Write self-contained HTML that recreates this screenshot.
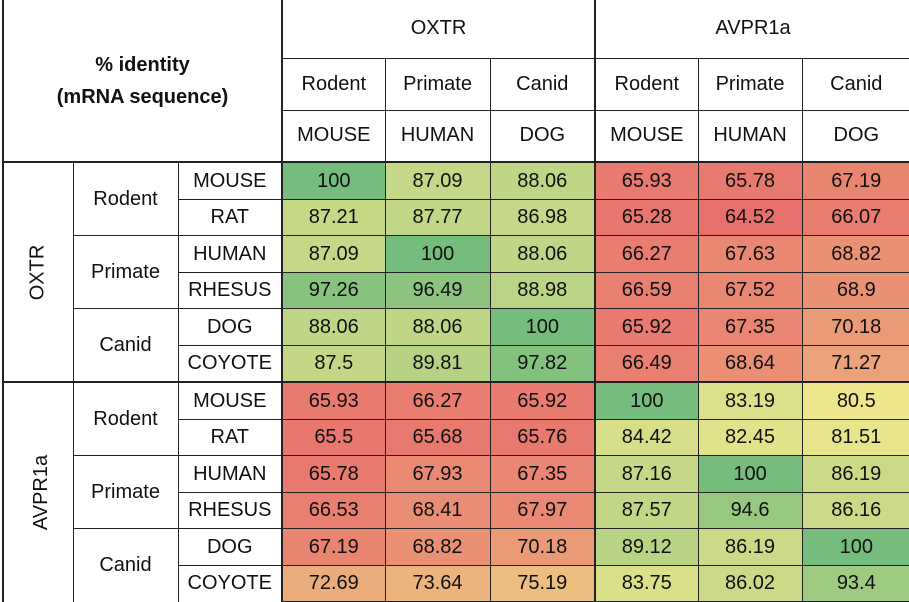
<!DOCTYPE html>
<html><head><meta charset="utf-8"><style>
body{margin:0;background:#fff;width:909px;height:602px;overflow:hidden}
table{position:absolute;left:2px;top:0;width:907px;border-collapse:collapse;table-layout:fixed;font-family:"Liberation Sans",sans-serif;font-size:20px;color:#111}
td{border:1px solid #222;text-align:center;padding:0;height:35px;overflow:hidden;white-space:nowrap}
tr.x td{height:36px}
td.v{font-size:20px}
.rot{transform:rotate(-90deg);display:inline-block}
.tb{border-bottom:2px solid #222}
.tr{border-right:2px solid #222}
</style></head><body>
<table id="t">
<colgroup><col style="width:70px"><col style="width:105px"><col style="width:104px"><col style="width:103px"><col style="width:105px"><col style="width:105px"><col style="width:103px"><col style="width:104px"><col style="width:108px"></colgroup>
<tr style="height:58px"><td colspan="3" rowspan="3" class="tr tb" style="border-left:2px solid #222;border-top:none;font-weight:bold;font-size:20px;line-height:32px">% identity<br>(mRNA sequence)</td><td colspan="3" class="tr" style="border-top:none">OXTR</td><td colspan="3" style="border-top:none;border-right:none">AVPR1a</td></tr>
<tr style="height:52px"><td>Rodent</td><td>Primate</td><td class="tr">Canid</td><td>Rodent</td><td>Primate</td><td style="border-right:none">Canid</td></tr>
<tr style="height:52px" class="tb"><td class="tb">MOUSE</td><td class="tb">HUMAN</td><td class="tb tr">DOG</td><td class="tb">MOUSE</td><td class="tb">HUMAN</td><td class="tb" style="border-right:none">DOG</td></tr>
<tr class="x"><td rowspan="6" class="tb" style="border-left:2px solid #222"><span class="rot">OXTR</span></td><td rowspan="2">Rodent</td><td>MOUSE</td><td>100</td><td>87.09</td><td>88.06</td><td>65.93</td><td>65.78</td><td>67.19</td></tr>
<tr><td>RAT</td><td>87.21</td><td>87.77</td><td>86.98</td><td>65.28</td><td>64.52</td><td>66.07</td></tr>
<tr class="x"><td rowspan="2">Primate</td><td>HUMAN</td><td>87.09</td><td>100</td><td>88.06</td><td>66.27</td><td>67.63</td><td>68.82</td></tr>
<tr><td>RHESUS</td><td>97.26</td><td>96.49</td><td>88.98</td><td>66.59</td><td>67.52</td><td>68.9</td></tr>
<tr class="x"><td rowspan="2" class="tb">Canid</td><td>DOG</td><td>88.06</td><td>88.06</td><td>100</td><td>65.92</td><td>67.35</td><td>70.18</td></tr>
<tr class="tb"><td class="tb">COYOTE</td><td class="tb">87.5</td><td class="tb">89.81</td><td class="tb">97.82</td><td class="tb">66.49</td><td class="tb">68.64</td><td class="tb">71.27</td></tr>
<tr class="x"><td rowspan="6" style="border-left:2px solid #222;border-bottom:none"><span class="rot">AVPR1a</span></td><td rowspan="2">Rodent</td><td>MOUSE</td><td>65.93</td><td>66.27</td><td>65.92</td><td>100</td><td>83.19</td><td>80.5</td></tr>
<tr><td>RAT</td><td>65.5</td><td>65.68</td><td>65.76</td><td>84.42</td><td>82.45</td><td>81.51</td></tr>
<tr class="x"><td rowspan="2">Primate</td><td>HUMAN</td><td>65.78</td><td>67.93</td><td>67.35</td><td>87.16</td><td>100</td><td>86.19</td></tr>
<tr><td>RHESUS</td><td>66.53</td><td>68.41</td><td>67.97</td><td>87.57</td><td>94.6</td><td>86.16</td></tr>
<tr class="x"><td rowspan="2" style="border-bottom:none">Canid</td><td>DOG</td><td>67.19</td><td>68.82</td><td>70.18</td><td>89.12</td><td>86.19</td><td>100</td></tr>
<tr><td style="border-bottom:none">COYOTE</td><td>72.69</td><td>73.64</td><td>75.19</td><td>83.75</td><td>86.02</td><td>93.4</td></tr>
</table>
<script>
var lo=[232,112,108],mid=[238,230,140],hi=[118,188,124];
function c(v){var a,b,t;if(v<80.5){a=lo;b=mid;t=(v-64.52)/(80.5-64.52);}else{a=mid;b=hi;t=(v-80.5)/(19.5);}
t=Math.max(0,Math.min(1,t));return 'rgb('+a.map(function(x,i){return Math.round(x+(b[i]-x)*t)}).join(',')+')';}
var rows=document.getElementById('t').rows;
for(var r=3;r<rows.length;r++){var cs=rows[r].cells,n=cs.length;
for(var k=n-6;k<n;k++){var td=cs[k];td.style.background=c(parseFloat(td.textContent));td.className+=' v';
if(k==n-4)td.style.borderRight='2px solid #222';if(k==n-1)td.style.borderRight='none';}
cs[n-7].style.borderRight='2px solid #222';}
</script>
</body></html>
